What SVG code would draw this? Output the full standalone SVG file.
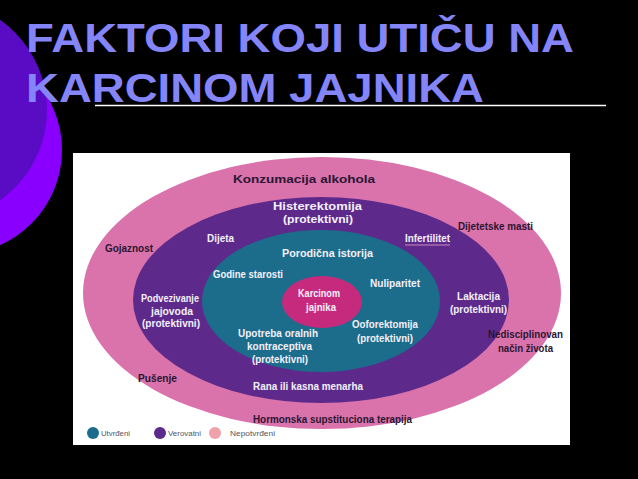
<svg xmlns="http://www.w3.org/2000/svg" width="638" height="479" viewBox="0 0 638 479">
<style>
.t{font-family:"Liberation Sans",Arial,sans-serif;font-weight:bold;font-size:10.8px;text-anchor:middle}
.w{fill:#f4f0fa}
.d{fill:#2a1632}
.lg{font-family:"Liberation Sans",Arial,sans-serif;font-size:7.5px;fill:#555560}
.title{font-family:"Liberation Sans",Arial,sans-serif;font-weight:bold;font-size:40px;fill:#8585fa}
</style>
<rect x="0" y="0" width="638" height="479" fill="#000"/>
<g id="decor">
<circle cx="-42" cy="150" r="104" fill="#8a00ff"/>
<circle cx="-63" cy="110" r="110" fill="#5a0cc4"/>
</g>
<g id="title">
<text class="title" x="26" y="52" textLength="548" lengthAdjust="spacingAndGlyphs">FAKTORI KOJI UTIČU NA</text>
<text class="title" x="26" y="102" textLength="458" lengthAdjust="spacingAndGlyphs">KARCINOM JAJNIKA</text>
<line x1="95" y1="105.5" x2="606" y2="105.5" stroke="#fff" stroke-width="1.5"/>
</g>
<g id="panel">
<rect x="73" y="153" width="497" height="292" fill="#fff"/>
</g>
<g id="rings">
<ellipse id="ring-nepotvrdeni" cx="322" cy="293" rx="239" ry="136" fill="#da72ab"/>
<ellipse id="ring-verovatni" cx="321" cy="300" rx="188" ry="103" fill="#5d2a8c"/>
<ellipse id="ring-utvrdeni" cx="321" cy="301" rx="119" ry="71" fill="#1c6c8c"/>
<ellipse id="ring-center" cx="322" cy="302" rx="40" ry="26" fill="#c62a7c"/>
</g>
<g id="nepotvrdeni-labels">
<text class="t d" x="304" y="183" textLength="142" lengthAdjust="spacingAndGlyphs">Konzumacija alkohola</text>
<text class="t d" x="129" y="252" textLength="48" lengthAdjust="spacingAndGlyphs">Gojaznost</text>
<text class="t d" x="495.5" y="230" textLength="75" lengthAdjust="spacingAndGlyphs">Dijetetske masti</text>
<text class="t d" x="525.5" y="338" textLength="75" lengthAdjust="spacingAndGlyphs">Nedisciplinovan</text>
<text class="t d" x="525.5" y="352" textLength="55" lengthAdjust="spacingAndGlyphs">način života</text>
<text class="t d" x="157.5" y="382" textLength="39" lengthAdjust="spacingAndGlyphs">Pušenje</text>
<text class="t d" x="332.5" y="423" textLength="159" lengthAdjust="spacingAndGlyphs">Hormonska supstituciona terapija</text>
</g>
<g id="verovatni-labels">
<text class="t w" x="317.5" y="210" textLength="89" lengthAdjust="spacingAndGlyphs">Histerektomija</text>
<text class="t w" x="318" y="223" textLength="70" lengthAdjust="spacingAndGlyphs">(protektivni)</text>
<text class="t w" x="220.5" y="242" textLength="27" lengthAdjust="spacingAndGlyphs">Dijeta</text>
<text class="t w" x="427.5" y="242" textLength="45" lengthAdjust="spacingAndGlyphs">Infertilitet</text>
<line x1="405" y1="245" x2="450" y2="245" stroke="#d08ab8" stroke-width="1"/>
<text class="t w" x="170" y="302" textLength="58" lengthAdjust="spacingAndGlyphs">Podvezivanje</text>
<text class="t w" x="172" y="315" textLength="42" lengthAdjust="spacingAndGlyphs">jajovoda</text>
<text class="t w" x="171" y="327" textLength="58" lengthAdjust="spacingAndGlyphs">(protektivni)</text>
<text class="t w" x="478.5" y="300" textLength="43" lengthAdjust="spacingAndGlyphs">Laktacija</text>
<text class="t w" x="478.5" y="313" textLength="57" lengthAdjust="spacingAndGlyphs">(protektivni)</text>
<text class="t w" x="308" y="390" textLength="110" lengthAdjust="spacingAndGlyphs">Rana ili kasna menarha</text>
</g>
<g id="utvrdeni-labels">
<text class="t w" x="327.5" y="257" textLength="91" lengthAdjust="spacingAndGlyphs">Porodična istorija</text>
<text class="t w" x="248" y="278" textLength="70" lengthAdjust="spacingAndGlyphs">Godine starosti</text>
<text class="t w" x="395" y="287" textLength="50" lengthAdjust="spacingAndGlyphs">Nuliparitet</text>
<text class="t w" x="278" y="337" textLength="80" lengthAdjust="spacingAndGlyphs">Upotreba oralnih</text>
<text class="t w" x="279.5" y="350" textLength="65" lengthAdjust="spacingAndGlyphs">kontraceptiva</text>
<text class="t w" x="280" y="363" textLength="56" lengthAdjust="spacingAndGlyphs">(protektivni)</text>
<text class="t w" x="385" y="328" textLength="66" lengthAdjust="spacingAndGlyphs">Ooforektomija</text>
<text class="t w" x="385" y="342" textLength="56" lengthAdjust="spacingAndGlyphs">(protektivni)</text>
</g>
<g id="center">
<text class="t w" x="319" y="297" textLength="42" lengthAdjust="spacingAndGlyphs">Karcinom</text>
<text class="t w" x="321" y="311" textLength="30" lengthAdjust="spacingAndGlyphs">jajnika</text>
</g>
<g id="legend">
<circle cx="93" cy="433" r="6" fill="#1c6c8c"/>
<text class="lg" x="101" y="436" textLength="29" lengthAdjust="spacingAndGlyphs">Utvrđeni</text>
<circle cx="160" cy="433" r="6" fill="#5d2a8c"/>
<text class="lg" x="168" y="436" textLength="33" lengthAdjust="spacingAndGlyphs">Verovatni</text>
<circle cx="215" cy="433" r="6" fill="#f0a2aa"/>
<text class="lg" x="230" y="436" textLength="45" lengthAdjust="spacingAndGlyphs">Nepotvrđeni</text>
</g>
</svg>
